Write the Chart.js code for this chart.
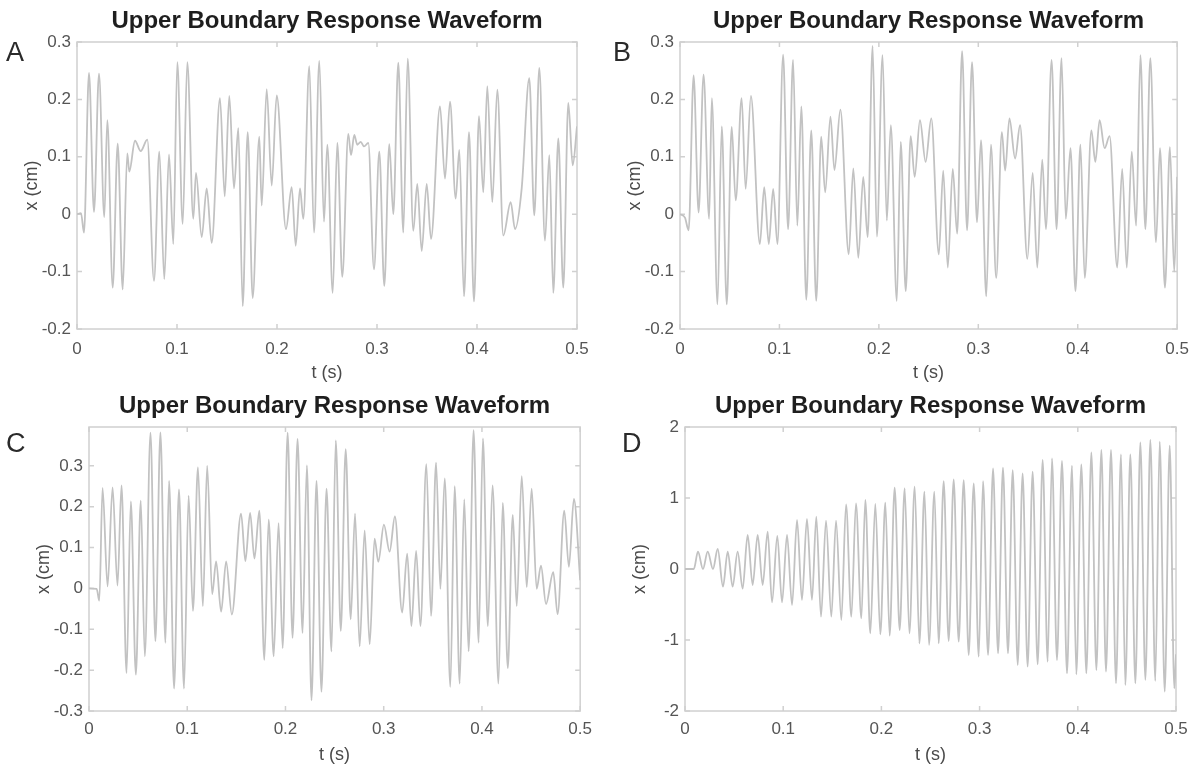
<!DOCTYPE html>
<html>
<head>
<meta charset="utf-8">
<title>Upper Boundary Response Waveform</title>
<script src="https://cdn.jsdelivr.net/npm/chart.js@4.4.1/dist/chart.umd.min.js"></script>
<style>
  html, body { margin: 0; padding: 0; background: #fff; }
  #page { position: relative; width: 1199px; height: 767px; overflow: hidden; }
  #page canvas { position: absolute; }
</style>
</head>
<body>
<div id="page">
  <canvas id="panelA" width="600" height="390" style="left:0;top:0;width:600px;height:390px"></canvas>
  <canvas id="panelB" width="599" height="390" style="left:600px;top:0;width:599px;height:390px"></canvas>
  <canvas id="panelC" width="600" height="377" style="left:0;top:390px;width:600px;height:377px"></canvas>
  <canvas id="panelD" width="599" height="377" style="left:600px;top:390px;width:599px;height:377px"></canvas>
</div>
<script>
// turning points of each trace: [t (s), x (cm)]
const waveA = [
  [0, 0], [0.004, 0.002], [0.007, -0.032], [0.012, 0.246], [0.017, 0.004], [0.022, 0.245],
  [0.0273, -0.005], [0.0303, 0.164], [0.0357, -0.128], [0.0407, 0.123], [0.0457, -0.131],
  [0.0503, 0.106], [0.0523, 0.074], [0.058, 0.128], [0.0637, 0.110], [0.0703, 0.130],
  [0.077, -0.116], [0.0823, 0.109], [0.0873, -0.113], [0.092, 0.104], [0.0963, -0.052],
  [0.1003, 0.265], [0.1057, -0.017], [0.1103, 0.265], [0.1163, -0.008], [0.119, 0.072],
  [0.1247, -0.040], [0.1297, 0.045], [0.1347, -0.050], [0.143, 0.202], [0.1477, 0.031],
  [0.1523, 0.206], [0.157, 0.045], [0.1613, 0.150], [0.1657, -0.160], [0.1707, 0.143],
  [0.1757, -0.146], [0.1823, 0.135], [0.1847, 0.015], [0.1897, 0.218], [0.1947, 0.050],
  [0.1997, 0.207], [0.209, -0.026], [0.2147, 0.047], [0.2187, -0.055], [0.223, 0.045],
  [0.2263, -0.008], [0.2323, 0.258], [0.237, -0.032], [0.2423, 0.267], [0.247, -0.013],
  [0.2503, 0.121], [0.2557, -0.137], [0.2603, 0.124], [0.2653, -0.109], [0.2713, 0.140],
  [0.274, 0.103], [0.2773, 0.138], [0.2803, 0.121], [0.2837, 0.126], [0.287, 0.118],
  [0.2913, 0.124], [0.297, -0.096], [0.3023, 0.109], [0.3073, -0.125], [0.3123, 0.122],
  [0.3163, 0.0], [0.3213, 0.264], [0.3263, -0.032], [0.3307, 0.271], [0.3363, -0.029],
  [0.3403, 0.053], [0.3447, -0.064], [0.3497, 0.053], [0.354, -0.043], [0.363, 0.188],
  [0.368, 0.062], [0.373, 0.196], [0.3787, 0.027], [0.3823, 0.112], [0.387, -0.143],
  [0.392, 0.143], [0.397, -0.152], [0.402, 0.171], [0.4063, 0.038], [0.4103, 0.223],
  [0.4153, 0.021], [0.4203, 0.217], [0.4263, -0.037], [0.4337, 0.021], [0.438, -0.026],
  [0.4447, 0.045], [0.4523, 0.237], [0.4573, -0.002], [0.4623, 0.255], [0.468, -0.046],
  [0.4723, 0.103], [0.4763, -0.137], [0.4813, 0.132], [0.4863, -0.128], [0.4913, 0.194],
  [0.4957, 0.085], [0.5, 0.153]
];

const waveB = [
  [0, 0], [0.005, -0.006], [0.0087, -0.028], [0.0137, 0.242], [0.0187, 0.003], [0.0237, 0.243],
  [0.0293, -0.008], [0.032, 0.202], [0.0377, -0.157], [0.042, 0.153], [0.047, -0.157],
  [0.052, 0.152], [0.056, 0.024], [0.062, 0.202], [0.066, 0.044], [0.0713, 0.206],
  [0.0803, -0.052], [0.0847, 0.047], [0.0893, -0.052], [0.0937, 0.044], [0.098, -0.052],
  [0.1037, 0.278], [0.1087, -0.026], [0.1137, 0.269], [0.118, -0.020], [0.122, 0.188],
  [0.127, -0.149], [0.132, 0.146], [0.137, -0.151], [0.142, 0.135], [0.146, 0.038],
  [0.1513, 0.170], [0.1553, 0.077], [0.1613, 0.182], [0.1697, -0.070], [0.1743, 0.080],
  [0.1793, -0.076], [0.1843, 0.065], [0.1887, -0.040], [0.1937, 0.293], [0.198, -0.039],
  [0.2037, 0.277], [0.208, -0.011], [0.212, 0.155], [0.218, -0.151], [0.222, 0.126],
  [0.227, -0.134], [0.232, 0.136], [0.236, 0.065], [0.2413, 0.164], [0.247, 0.091],
  [0.2527, 0.167], [0.2603, -0.070], [0.2647, 0.076], [0.2693, -0.093], [0.2743, 0.079],
  [0.2787, -0.034], [0.2837, 0.284], [0.2887, -0.028], [0.2937, 0.265], [0.2987, -0.014],
  [0.3027, 0.129], [0.308, -0.143], [0.3127, 0.121], [0.318, -0.111], [0.3237, 0.143],
  [0.327, 0.076], [0.3313, 0.167], [0.337, 0.097], [0.342, 0.155], [0.3493, -0.078],
  [0.3547, 0.072], [0.3593, -0.093], [0.3643, 0.095], [0.368, -0.026], [0.3737, 0.269],
  [0.3787, -0.026], [0.3837, 0.272], [0.388, -0.008], [0.3927, 0.115], [0.3977, -0.134],
  [0.4027, 0.121], [0.407, -0.111], [0.4137, 0.146], [0.4177, 0.091], [0.422, 0.164],
  [0.427, 0.115], [0.432, 0.136], [0.4397, -0.093], [0.4447, 0.079], [0.4493, -0.093],
  [0.4543, 0.109], [0.4587, -0.020], [0.463, 0.277], [0.468, -0.026], [0.473, 0.272],
  [0.4787, -0.049], [0.4827, 0.115], [0.4877, -0.128], [0.4927, 0.117], [0.497, -0.100],
  [0.5, 0.065]
];

const waveC = [
  [0, 0], [0.0078, -0.001], [0.0105, -0.030], [0.0138, 0.246], [0.0189, 0.005], [0.024, 0.247],
  [0.029, 0.007], [0.0331, 0.252], [0.0382, -0.207], [0.0426, 0.213], [0.0477, -0.211],
  [0.0527, 0.215], [0.0568, -0.166], [0.0626, 0.381], [0.0676, -0.129], [0.0727, 0.382],
  [0.0778, -0.133], [0.0815, 0.263], [0.0866, -0.245], [0.0916, 0.242], [0.0967, -0.245],
  [0.1014, 0.227], [0.1058, -0.055], [0.1109, 0.296], [0.1159, -0.043], [0.1203, 0.300],
  [0.1254, -0.014], [0.1294, 0.066], [0.1345, -0.057], [0.1396, 0.066], [0.1454, -0.064],
  [0.1548, 0.183], [0.1592, 0.067], [0.164, 0.185], [0.1684, 0.073], [0.1734, 0.190],
  [0.1785, -0.175], [0.1829, 0.168], [0.188, -0.166], [0.193, 0.160], [0.1971, -0.146],
  [0.2022, 0.381], [0.2072, -0.121], [0.2123, 0.366], [0.2174, -0.109], [0.2218, 0.301],
  [0.2265, -0.274], [0.2316, 0.263], [0.2366, -0.253], [0.2418, 0.244], [0.2468, -0.154],
  [0.2512, 0.362], [0.2563, -0.104], [0.2613, 0.341], [0.2664, -0.076], [0.2708, 0.183],
  [0.2755, -0.142], [0.2806, 0.142], [0.2857, -0.137], [0.2907, 0.122], [0.2945, 0.065],
  [0.3002, 0.156], [0.306, 0.090], [0.3114, 0.176], [0.3188, -0.059], [0.3239, 0.085],
  [0.3282, -0.092], [0.333, 0.092], [0.3374, -0.092], [0.3434, 0.304], [0.3482, -0.067],
  [0.3533, 0.308], [0.3577, -0.001], [0.3621, 0.269], [0.3678, -0.241], [0.3722, 0.250],
  [0.3773, -0.233], [0.382, 0.218], [0.3864, -0.154], [0.3915, 0.387], [0.3966, -0.133],
  [0.401, 0.367], [0.406, -0.092], [0.4108, 0.252], [0.4168, -0.233], [0.4212, 0.209],
  [0.4263, -0.195], [0.4314, 0.180], [0.4354, -0.043], [0.4405, 0.275], [0.4456, 0.003],
  [0.4506, 0.244], [0.4557, -0.001], [0.4601, 0.056], [0.4652, -0.038], [0.4726, 0.040],
  [0.477, -0.063], [0.4838, 0.190], [0.4885, 0.053], [0.4936, 0.219], [0.5, 0.02]
];

const waveD = [
  [0, 0], [0.009, 0], [0.0132, 0.244], [0.0183, 0.0], [0.0231, 0.244], [0.0285, 0.0],
  [0.0333, 0.282], [0.0387, -0.249], [0.0435, 0.244], [0.0485, -0.249], [0.0536, 0.244],
  [0.0587, -0.277], [0.0638, 0.479], [0.0689, -0.225], [0.074, 0.479], [0.0791, -0.225],
  [0.0842, 0.526], [0.0886, -0.469], [0.094, 0.465], [0.0988, -0.469], [0.1039, 0.479],
  [0.109, -0.507], [0.1141, 0.690], [0.1191, -0.436], [0.1242, 0.704], [0.1293, -0.436],
  [0.1337, 0.737], [0.1385, -0.671], [0.1436, 0.681], [0.149, -0.671], [0.1538, 0.681],
  [0.1592, -0.718], [0.164, 0.911], [0.1694, -0.671], [0.1741, 0.925], [0.1796, -0.695],
  [0.1836, 0.972], [0.1887, -0.906], [0.1938, 0.916], [0.1989, -0.920], [0.204, 0.935],
  [0.2084, -0.939], [0.2135, 1.145], [0.2186, -0.859], [0.2237, 1.136], [0.2285, -0.906],
  [0.2339, 1.160], [0.2387, -1.047], [0.2438, 1.089], [0.2485, -1.070], [0.2539, 1.089],
  [0.2583, -1.047], [0.2634, 1.239], [0.2685, -1.014], [0.2736, 1.263], [0.2787, -1.023],
  [0.2838, 1.253], [0.2889, -1.211], [0.294, 1.206], [0.2991, -1.235], [0.3035, 1.239],
  [0.3086, -1.211], [0.3137, 1.418], [0.3188, -1.188], [0.3238, 1.427], [0.3289, -1.188],
  [0.3337, 1.394], [0.3388, -1.352], [0.3438, 1.347], [0.3489, -1.376], [0.354, 1.371],
  [0.3591, -1.343], [0.3642, 1.535], [0.3693, -1.305], [0.3737, 1.559], [0.3788, -1.282],
  [0.3839, 1.521], [0.389, -1.469], [0.3941, 1.455], [0.3985, -1.484], [0.4036, 1.474],
  [0.4087, -1.469], [0.4138, 1.643], [0.4189, -1.423], [0.424, 1.676], [0.4287, -1.446],
  [0.4338, 1.676], [0.4389, -1.610], [0.444, 1.615], [0.4484, -1.634], [0.4535, 1.615],
  [0.4586, -1.610], [0.4637, 1.784], [0.4688, -1.563], [0.4739, 1.817], [0.4789, -1.577],
  [0.4834, 1.793], [0.4885, -1.728], [0.4936, 1.737], [0.4983, -1.681], [0.5, -1.2]
];

// axis tick values
const timeTicks = [0, 0.1, 0.2, 0.3, 0.4, 0.5];
const ticksAB = [-0.2, -0.1, 0, 0.1, 0.2, 0.3];
const ticksC = [-0.3, -0.2, -0.1, 0, 0.1, 0.2, 0.3];
const ticksD = [-2, -1, 0, 1, 2];

const panelTitle = 'Upper Boundary Response Waveform';
const fontFamily = '"Liberation Sans", Arial, Helvetica, sans-serif';

// MATLAB-style axes box with inward tick marks, plus title and panel letter
const boxPlugin = {
    id: 'matlabBox',
    beforeDatasetsDraw(chart) {
        const { ctx, chartArea: a, scales: { x, y } } = chart;
        ctx.save();
        ctx.strokeStyle = '#d0d0d0';
        ctx.lineWidth = 1.5;
        ctx.strokeRect(a.left, a.top, a.right - a.left, a.bottom - a.top);
        ctx.beginPath();
        x.ticks.forEach(t => {
            const px = x.getPixelForValue(t.value);
            ctx.moveTo(px, a.bottom); ctx.lineTo(px, a.bottom - 5);
            ctx.moveTo(px, a.top); ctx.lineTo(px, a.top + 5);
        });
        y.ticks.forEach(t => {
            const py = y.getPixelForValue(t.value);
            ctx.moveTo(a.left, py); ctx.lineTo(a.left + 5, py);
            ctx.moveTo(a.right, py); ctx.lineTo(a.right - 5, py);
        });
        ctx.stroke();
        ctx.restore();
    },
    afterDraw(chart, args, opts) {
        const { ctx, chartArea: a } = chart;
        ctx.save();
        ctx.fillStyle = '#1e1e1e';
        ctx.textBaseline = 'alphabetic';
        ctx.font = 'bold 24px ' + fontFamily;
        ctx.textAlign = 'center';
        ctx.fillText(panelTitle, (a.left + a.right) / 2, a.top - 14);
        ctx.fillStyle = '#2a2a2a';
        ctx.font = '27px ' + fontFamily;
        ctx.textAlign = 'left';
        ctx.fillText(opts.letter, opts.letterX, opts.letterY);
        ctx.restore();
    }
};

function drawPanel(id, wave, yMin, yMax, yTicks, box) {
    const tickFont = { family: fontFamily, size: 17 };
    const titleFont = { family: fontFamily, size: 18 };
    new Chart(document.getElementById(id), {
        type: 'line',
        data: {
            datasets: [{
                data: wave.map(([t, v]) => ({ x: t, y: v })),
                borderColor: '#c2c2c2',
                borderWidth: 1.8,
                pointRadius: 0,
                cubicInterpolationMode: 'monotone',
                fill: false
            }]
        },
        options: {
            responsive: false,
            animation: false,
            events: [],
            layout: { padding: { left: 0, top: box.top, right: box.right, bottom: 0 } },
            plugins: {
                legend: { display: false },
                tooltip: { enabled: false },
                matlabBox: { letter: box.letter, letterX: box.letterX, letterY: box.letterY }
            },
            scales: {
                x: {
                    type: 'linear',
                    min: 0,
                    max: 0.5,
                    afterBuildTicks: scale => { scale.ticks = timeTicks.map(value => ({ value })); },
                    afterFit: scale => { scale.height = box.xHeight; },
                    grid: { display: false, drawTicks: false },
                    border: { display: false },
                    ticks: {
                        font: tickFont,
                        color: '#555',
                        padding: box.xPad,
                        maxRotation: 0,
                        autoSkip: false,
                        callback: v => String(+v.toFixed(1))
                    },
                    title: {
                        display: true,
                        text: 't (s)',
                        font: titleFont,
                        color: '#4a4a4a',
                        padding: { top: 0, bottom: box.xTitlePad }
                    }
                },
                y: {
                    min: yMin,
                    max: yMax,
                    afterBuildTicks: scale => { scale.ticks = yTicks.map(value => ({ value })); },
                    afterFit: scale => { scale.width = box.yWidth; },
                    grid: { display: false, drawTicks: false },
                    border: { display: false },
                    ticks: {
                        font: tickFont,
                        color: '#555',
                        padding: 6,
                        callback: v => String(+v.toFixed(1))
                    },
                    title: {
                        display: true,
                        text: 'x (cm)',
                        font: titleFont,
                        color: '#4a4a4a',
                        padding: { top: box.yTitlePad, bottom: 0 }
                    }
                }
            }
        },
        plugins: [boxPlugin]
    });
}

document.addEventListener('DOMContentLoaded', () => {
    drawPanel('panelA', waveA, -0.2, 0.3, ticksAB,
        { top: 42, right: 23, yWidth: 77, xHeight: 61, xPad: 10, xTitlePad: 6, yTitlePad: 21, letter: 'A', letterX: 6, letterY: 61 });
    drawPanel('panelB', waveB, -0.2, 0.3, ticksAB,
        { top: 42, right: 18, yWidth: 80, xHeight: 61, xPad: 10, xTitlePad: 6, yTitlePad: 24, letter: 'B', letterX: 13, letterY: 61 });
    drawPanel('panelC', waveC, -0.3, 0.395, ticksC,
        { top: 37, right: 18, yWidth: 89, xHeight: 56, xPad: 8, xTitlePad: 1, yTitlePad: 33, letter: 'C', letterX: 6, letterY: 62 });
    drawPanel('panelD', waveD, -2, 2, ticksD,
        { top: 37, right: 23, yWidth: 85, xHeight: 56, xPad: 8, xTitlePad: 1, yTitlePad: 29, letter: 'D', letterX: 22, letterY: 62 });
});
</script>
</body>
</html>
